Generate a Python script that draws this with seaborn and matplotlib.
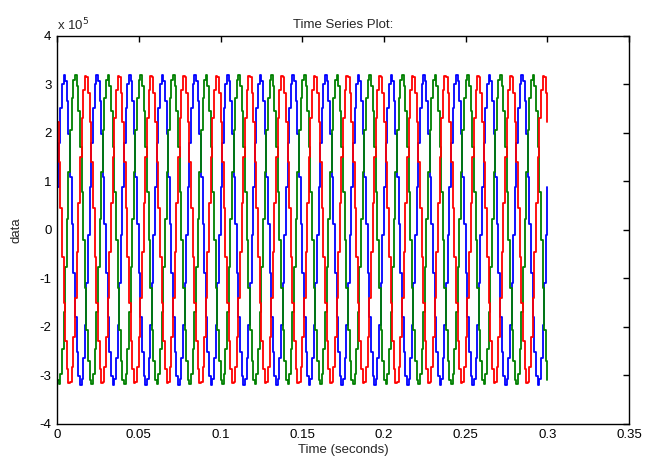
import numpy as np
import pandas as pd
import seaborn as sns
import matplotlib
matplotlib.use('Agg')
import matplotlib.pyplot as plt

phase_blue = [0.89, 1.79, 2.52, 3.01, 3.20, 3.08, 2.65, 1.97, 1.09, 0.11,
              -0.89, -1.79, -2.52, -3.01, -3.20, -3.08, -2.65, -1.97, -1.09, -0.11]
phase_green = [-3.10, -3.19, -2.97, -2.45, -1.70, -0.77, 0.22, 1.20, 2.06, 2.71,
               3.10, 3.19, 2.97, 2.45, 1.70, 0.77, -0.22, -1.20, -2.06, -2.71]
phase_red = [2.22, 1.40, 0.45, -0.56, -1.50, -2.30, -2.88, -3.17, -3.15, -2.83,
             -2.22, -1.40, -0.45, 0.56, 1.50, 2.30, 2.88, 3.17, 3.15, 2.83]
n_cycles = 15
t_step = 0.001
xticks = [0, 0.05, 0.1, 0.15, 0.2, 0.25, 0.3, 0.35]
xticklabels = ['0', '0.05', '0.1', '0.15', '0.2', '0.25', '0.3', '0.35']
yticks = [-4, -3, -2, -1, 0, 1, 2, 3, 4]

rows = []
for name, cyc in [('a', phase_blue), ('b', phase_green), ('c', phase_red)]:
    vals = list(np.tile(cyc, n_cycles)) + [cyc[0]]
    t = np.arange(len(vals)) * t_step
    rows.append(pd.DataFrame({'time': t, 'data': vals, 'phase': name}))
df = pd.concat(rows, ignore_index=True)

sns.set_style('white')
plt.rcParams['font.family'] = ['Liberation Sans', 'DejaVu Sans']

fig = plt.figure(figsize=(6.48, 4.61), dpi=100)
ax = fig.add_axes([0.088, 0.081, 0.883, 0.841])
sns.lineplot(data=df, x='time', y='data', hue='phase', estimator=None,
             palette=['#0000ff', '#008000', '#ff0000'], linewidth=1.3,
             drawstyle='steps-post', legend=False, ax=ax)

ax.set_xlim(0, 0.35); ax.set_ylim(-4, 4)
ax.set_xticks(xticks); ax.set_xticklabels(xticklabels)
ax.set_yticks(yticks); ax.set_yticklabels([str(v) for v in yticks])
ax.tick_params(direction='in', length=4, width=1, top=True, right=True,
               labelsize=9.5, pad=4, colors='black')
for s in ax.spines.values():
    s.set_color('black'); s.set_linewidth(1)

ax.set_title('Time Series Plot:', fontsize=9.5, pad=6)
ax.set_xlabel('Time (seconds)', fontsize=9.5, labelpad=2)
ax.set_ylabel('data', fontsize=9.5, labelpad=12)
ax.text(0.0, 1.008, 'x 10$^5$', transform=ax.transAxes, fontsize=9.5, va='bottom', ha='left')

fig.savefig('out.png', dpi=100)
